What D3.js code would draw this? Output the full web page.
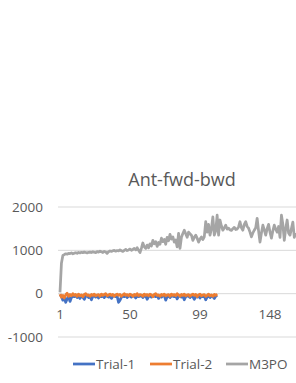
<!DOCTYPE html>
<html><head><meta charset="utf-8">
<script src="https://cdn.jsdelivr.net/npm/d3@7/dist/d3.min.js"></script>
<style>body{margin:0;background:#fff}svg{display:block}text{font-family:"Open Sans",sans-serif;fill:#595959}</style>
</head><body><svg id="c" width="296" height="383"></svg>
<script>
const title = "Ant-fwd-bwd";
const seriesNames = ["Trial-1", "Trial-2", "M3PO"];
const seriesColors = ["#4472C4", "#ED7D31", "#A5A5A5"];
const yTicks = [-1000, 0, 1000, 2000];
const xTickLabels = [1, 50, 99, 148];
const trial1 = [-20,-60,-150,-80,-200,-120,-60,-180,-90,-50,
 -70,-40,-90,-60,-110,-50,-80,-130,-60,-40,
 -90,-70,-140,-60,-50,-80,-40,-100,-60,-70,
 -50,-90,-40,-60,-80,-50,-110,-60,-40,-70,
 -60,-200,-150,-80,-50,-70,-40,-90,-60,-50,
 -80,-40,-60,-100,-50,-70,-60,-40,-90,-60,
 -50,-130,-70,-40,-80,-60,-50,-70,-40,-110,
 -60,-80,-50,-40,-150,-70,-60,-90,-50,-60,
 -70,-40,-120,-60,-50,-80,-60,-140,-70,-50,
 -60,-90,-50,-70,-130,-60,-80,-50,-100,-60,
 -70,-50,-140,-80,-60,-90,-50,-70,-110,-60,-40];
const trial2 = [-10,-80,-40,-100,-30,10,-60,-20,-50,0,
 -40,-20,-60,-10,-50,-30,-70,-20,0,-40,
 -30,-60,-20,-40,-10,-50,-30,-20,-60,-10,
 -40,-20,0,-50,-30,-10,-40,-20,-60,-30,
 -10,-40,-20,-60,-30,0,-40,-20,-50,-10,
 -30,-60,-20,-40,0,-50,-20,-30,-60,-10,
 -40,-20,-50,-10,-30,-70,-20,0,-40,-30,
 -60,-20,-40,-10,-50,-30,-20,-60,-10,-40,
 -20,-50,0,-30,-60,-20,-40,-10,-50,-30,
 -20,-60,-30,-10,-40,-20,-70,-30,-10,-50,
 -30,-20,-60,-40,-10,-50,-30,-60,-20,-40,-10];
const m3po = [30,700,880,900,920,910,930,925,940,920,
 935,945,930,950,940,955,945,960,950,940,
 955,960,950,965,955,945,970,960,980,965,
 950,975,960,930,970,985,975,990,1000,980,
 995,985,1010,990,975,1000,1020,995,1010,1030,
 1000,1020,1045,1010,1060,1000,950,1050,1170,1080,
 1045,1120,1060,1150,1100,1230,1150,1200,1090,1180,
 1140,1280,1200,1250,1140,1300,1220,1370,1260,1310,
 1190,1240,1080,1390,1045,1300,1390,1465,1380,1300,
 1420,1380,1350,1230,1300,1350,1280,1190,1260,1310,
 1250,1310,1660,1420,1600,1350,1500,1770,1350,1450,
 1810,1350,1700,1560,1465,1520,1580,1490,1510,1470,
 1460,1500,1530,1480,1490,1540,1660,1520,1465,1600,
 1660,1550,1510,1420,1310,1400,1465,1520,1740,1450,
 1190,1400,1580,1470,1350,1500,1600,1420,1280,1450,
 1580,1490,1420,1550,1300,1810,1600,1230,1500,1700,
 1400,1350,1500,1650,1300,1400];
const series = [trial1, trial2, m3po];

const svg = d3.select("#c");
const categories = d3.range(1, m3po.length + 1);
const x = d3.scalePoint().domain(categories).range([60, 60 + (m3po.length - 1) * 1.4286]);
const y = d3.scaleLinear().domain([-1000, 2000]).range([337, 207]);

svg.append("text").attr("x", 182).attr("y", 186).attr("text-anchor", "middle")
  .style("font-size", "18px").text(title);

svg.append("g").selectAll("line").data(yTicks).join("line")
  .attr("x1", 58).attr("x2", 296).attr("y1", d => y(d)).attr("y2", d => y(d))
  .attr("stroke", "#D9D9D9").attr("stroke-width", 1);
svg.append("g").selectAll("text").data(yTicks).join("text")
  .attr("x", 43).attr("y", d => y(d)).attr("dy", "0.35em").attr("text-anchor", "end")
  .style("font-size", "13.5px").text(d => d);
svg.append("g").selectAll("text").data(xTickLabels).join("text")
  .attr("x", d => x(d)).attr("y", 319).attr("text-anchor", "middle")
  .style("font-size", "13.5px").text(d => d);

const line = d3.line().x((d, i) => x(i + 1)).y(d => y(d));
series.forEach((s, k) => {
  svg.append("path").datum(s).attr("d", line).attr("fill", "none")
    .attr("stroke", seriesColors[k]).attr("stroke-width", 2.75).attr("stroke-linejoin", "round");
});

const legX = [73, 150, 226];
const lg = svg.append("g").selectAll("g").data(seriesNames).join("g")
  .attr("transform", (d, i) => `translate(${legX[i]},364)`);
lg.append("line").attr("x1", 0).attr("x2", 22).attr("stroke", (d, i) => seriesColors[i]).attr("stroke-width", 2.75);
lg.append("text").attr("x", 23).attr("dy", "0.35em").style("font-size", "13.5px").text(d => d);
</script></body></html>
